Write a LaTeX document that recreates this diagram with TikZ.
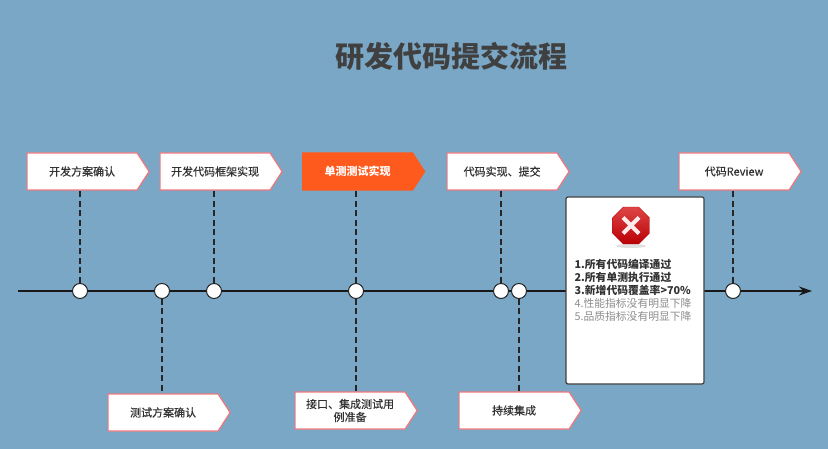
\documentclass[tikz,border=0pt]{standalone}
\usepackage{fontspec}
\setmainfont{Noto Sans CJK SC}
\newfontfamily\labelfont{Noto Sans CJK SC}[FakeBold=0.35]
\usetikzlibrary{arrows.meta,shapes.geometric,shapes.symbols}
\definecolor{bgblue}{RGB}{122,167,198}
\definecolor{pinkline}{RGB}{240,120,125}
\definecolor{orangefill}{RGB}{255,90,30}
\definecolor{darktext}{RGB}{50,50,50}
\definecolor{signtop}{RGB}{222,70,70}
\definecolor{signlow}{RGB}{185,0,5}
\begin{document}
\begin{tikzpicture}[x=1pt,y=-1pt,>={Stealth[length=13pt,width=9pt]}]
                \tikzstyle{every node}=[font=\fontsize{11}{13}\selectfont,text=darktext]
                \tikzstyle{stepbox}=[signal,signal from=nowhere,signal to=east,signal pointer angle=114,draw=pinkline,line width=1.2pt,fill=white,minimum width=122pt,minimum height=37pt,inner sep=0pt,align=center,anchor=west,font=\fontsize{11}{13}\selectfont\labelfont]
                \tikzstyle{tick}=[circle,draw=black!85,line width=1pt,fill=white,minimum size=15pt,inner sep=0pt]
                \tikzstyle{dashline}=[dashed,dash pattern=on 6pt off 3.5pt,line width=1.4pt,black!85]
                \fill[bgblue] (0,0) rectangle (828,449);
                \useasboundingbox (0,0) rectangle (828,449);
                \node (title) at (451,56) [font=\fontsize{29}{32}\selectfont\bfseries,text=black!75]{研发代码提交流程};
                \coordinate (start) at (18,291);
                \coordinate (stop) at (812,291);
                \draw [->,line width=2pt,black!90](start)--(stop);
                \node (plan) at (26.5,171.5)[stepbox]{开发方案确认};
                \node (frame) at (159.5,171.5)[stepbox]{开发代码框架实现};
                \node (unit) at (302,171.5)[stepbox,draw=orangefill,fill=orangefill,text=white,font=\fontsize{11}{13}\selectfont\bfseries]{单测测试实现};
                \node (code) at (446.5,171.5)[stepbox]{代码实现、提交};
                \node (review) at (678.5,171.5)[stepbox]{代码Review};
                \node (testplan) at (107.5,412.5)[stepbox]{测试方案确认};
                \node (iface) at (294.5,410.5)[stepbox]{接口、集成测试用\\例准备};
                \node (ci) at (458.5,410.5)[stepbox]{持续集成};
                \foreach \name/\x in {a/80,b/162,c/214,d/356,e/501,f/519,g/733}
                    {
                        \node (\name) at (\x,291)[tick]{};
                    }
                \draw[dashline] (a)--(a |- plan.south);
                \draw[dashline] (c)--(c |- frame.south);
                \draw[dashline] (d)--(d |- unit.south);
                \draw[dashline] (e)--(e |- code.south);
                \draw[dashline] (g)--(g |- review.south);
                \draw[dashline] (b)--(b |- testplan.north);
                \draw[dashline] (d)--(d |- iface.north);
                \draw[dashline] (f)--(f |- ci.north);
                \node (gate) at (635,290.5)[draw=black!75,line width=1.2pt,fill=white,rounded corners=2pt,minimum width=138pt,minimum height=187pt,inner sep=0pt]{};
                \fill[black!12] (631,246) ellipse (15 and 2);
                \node (sign) at (631,225.5)[regular polygon,regular polygon sides=8,minimum size=40pt,inner sep=0pt,top color=signtop,bottom color=signlow,draw=signlow,line width=.4pt]{};
                \draw[white!92!red,line width=4pt] (sign.center)+(-8,-8)--+(8,8);
                \draw[white!92!red,line width=4pt] (sign.center)+(-8,8)--+(8,-8);
                \node (rules) at (571,290)[anchor=west,align=left,font=\fontsize{10.8}{13}\selectfont]{\bfseries 1.所有代码编译通过\\\bfseries 2.所有单测执行通过\\\bfseries 3.新增代码覆盖率>70\%\\\textcolor{black!45}{4.性能指标没有明显下降}\\\textcolor{black!45}{5.品质指标没有明显下降}};
            \end{tikzpicture}
\end{document}
